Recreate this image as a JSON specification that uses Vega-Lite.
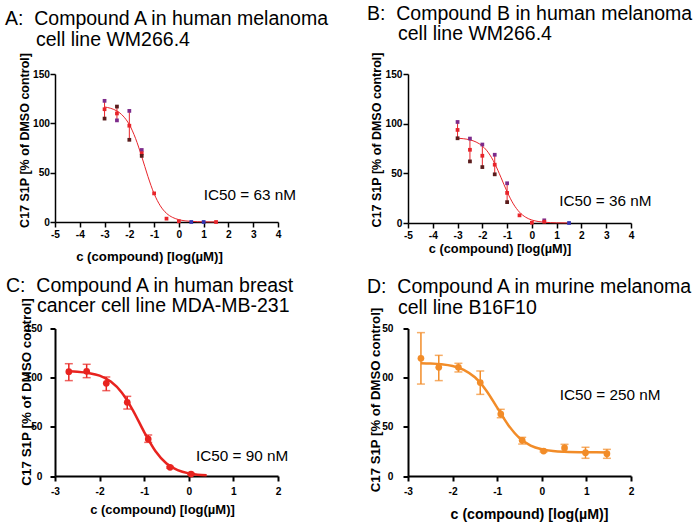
{
  "$schema": "https://vega.github.io/schema/vega-lite/v6.json",
  "background": "white",
  "padding": {"left": 5, "top": 3, "right": 5, "bottom": 5},
  "columns": 2,
  "bounds": "flush",
  "spacing": {"row": 105.5, "column": 130},
  "config": {
    "view": {"stroke": null},
    "axis": {
      "grid": false, "domainColor": "black", "tickColor": "black", "labelColor": "black", "titleColor": "black",
      "labelFont": "Liberation Sans", "titleFont": "Liberation Sans", "labelFontWeight": "bold", "titleFontWeight": "bold",
      "labelFontSize": 10.2, "tickSize": 5, "domainWidth": 1.5, "tickWidth": 1.5, "titleBaseline": "middle",
      "labelFlush": false, "labelOverlap": false, "tickCount": 20
    },
    "title": {"anchor": "start", "frame": "group", "baseline": "alphabetic", "fontSize": 19.5, "lineHeight": 20.5, "font": "Liberation Sans", "fontWeight": "normal", "color": "black"}
  },
  "concat": [
    {
      "width": 223, "height": 148,
      "title": {"text": ["A:\u00a0 Compound A in human melanoma", "\u200b\u00a0\u00a0\u00a0\u00a0\u00a0\u2009cell line WM266.4"], "dx": -50, "offset": 2},
      "layer": [
        {
          "data": {"values": [{"x": -3, "y": 116.6}, {"x": -2.75, "y": 115.2}, {"x": -2.5, "y": 112.5}, {"x": -2.25, "y": 107.4}, {"x": -2, "y": 98.7}, {"x": -1.75, "y": 84.8}, {"x": -1.5, "y": 66.3}, {"x": -1.25, "y": 46.2}, {"x": -1, "y": 28.7}, {"x": -0.75, "y": 16.4}, {"x": -0.5, "y": 8.8}, {"x": -0.25, "y": 4.6}, {"x": 0, "y": 2.35}, {"x": 0.25, "y": 1.19}, {"x": 0.5, "y": 0.6}, {"x": 1, "y": 0.15}, {"x": 1.5, "y": 0.04}]},
          "mark": {"type": "line", "color": "#e8242a", "strokeWidth": 1, "interpolate": "monotone"},
          "encoding": {
            "x": {"field": "x", "type": "quantitative", "scale": {"domain": [-5, 4], "nice": false, "zero": false},
                  "axis": {"title": "c (compound) [log(µM)]", "values": [-5, -4, -3, -2, -1, 0, 1, 2, 3, 4], "tickCount": 20, "labelOverlap": false, "labelExpr": "'' + datum.value", "labelPadding": 2, "titleFontSize": 13.2, "titleX": 94, "titleY": 34.5}},
            "y": {"field": "y", "type": "quantitative", "scale": {"domain": [0, 150], "nice": false},
                  "axis": {"title": "C17 S1P [% of DMSO control]", "values": [0, 50, 100, 150], "tickCount": 20, "labelOverlap": false, "labelPadding": 0.5, "titleFontSize": 12.5, "titleX": -31, "titleY": 66}}
          }
        },
        {
          "data": {"values": [{"x": -3, "lo": 104.8, "hi": 122.8}, {"x": -2.5, "lo": 103, "hi": 117}, {"x": -2, "lo": 83.3, "hi": 112.6}, {"x": -1.5, "lo": 67, "hi": 73}]},
          "mark": {"type": "rule", "color": "#e8242a", "strokeWidth": 1},
          "encoding": {"x": {"field": "x", "type": "quantitative"}, "y": {"field": "lo", "type": "quantitative"}, "y2": {"field": "hi"}}
        },
        {
          "data": {"values": [{"x": -3, "y": 122.8, "rep": "n1"}, {"x": -3, "y": 114.3, "rep": "mean"}, {"x": -3, "y": 104.8, "rep": "n2"}, {"x": -2.5, "y": 103, "rep": "n1"}, {"x": -2.5, "y": 110, "rep": "mean"}, {"x": -2.5, "y": 117, "rep": "n2"}, {"x": -2, "y": 112.6, "rep": "n1"}, {"x": -2, "y": 97.6, "rep": "mean"}, {"x": -2, "y": 83.3, "rep": "n2"}, {"x": -1.5, "y": 73, "rep": "n1"}, {"x": -1.5, "y": 69.7, "rep": "mean"}, {"x": -1.5, "y": 67, "rep": "n2"}, {"x": -1, "y": 29, "rep": "mean"}, {"x": -0.5, "y": 3.4, "rep": "mean"}, {"x": 0, "y": 0.7, "rep": "mean"}, {"x": 0.5, "y": 0, "rep": "n3"}, {"x": 1, "y": 0, "rep": "n3"}, {"x": 1.5, "y": 0, "rep": "mean"}]},
          "mark": {"type": "point", "shape": "square", "filled": true, "size": 14, "opacity": 1},
          "encoding": {"x": {"field": "x", "type": "quantitative"}, "y": {"field": "y", "type": "quantitative"},
                       "color": {"field": "rep", "type": "nominal", "scale": {"domain": ["n1", "mean", "n2", "n3"], "range": ["#7d2b8b", "#e8242a", "#5a1c1c", "#3434b0"]}, "legend": null}}
        },
        {
          "data": {"values": [{"x": 1, "y": 27, "label": "IC50 = 63 nM"}]},
          "mark": {"type": "text", "align": "left", "baseline": "middle", "fontSize": 15.3, "font": "Liberation Sans", "color": "black"},
          "encoding": {"x": {"field": "x", "type": "quantitative"}, "y": {"field": "y", "type": "quantitative"}, "text": {"field": "label"}}
        }
      ]
    },
    {
      "width": 223, "height": 149,
      "title": {"text": ["B:\u00a0 Compound B in human melanoma", "\u200b\u00a0\u00a0\u00a0\u00a0\u00a0\u2009cell line WM266.4"], "dx": -41, "offset": 7.3},
      "layer": [
        {
          "data": {"values": [{"x": -3, "y": 85.4}, {"x": -2.75, "y": 84.8}, {"x": -2.5, "y": 83.7}, {"x": -2.25, "y": 81.5}, {"x": -2, "y": 77.5}, {"x": -1.75, "y": 70.6}, {"x": -1.5, "y": 59.9}, {"x": -1.25, "y": 46.0}, {"x": -1, "y": 31.4}, {"x": -0.75, "y": 19.3}, {"x": -0.5, "y": 10.9}, {"x": -0.25, "y": 5.8}, {"x": 0, "y": 3.0}, {"x": 0.25, "y": 1.54}, {"x": 0.5, "y": 0.78}, {"x": 1, "y": 0.2}, {"x": 1.5, "y": 0.05}]},
          "mark": {"type": "line", "color": "#e8242a", "strokeWidth": 1, "interpolate": "monotone"},
          "encoding": {
            "x": {"field": "x", "type": "quantitative", "scale": {"domain": [-5, 4], "nice": false, "zero": false},
                  "axis": {"title": "c (compound) [log(µM)]", "values": [-5, -4, -3, -2, -1, 0, 1, 2, 3, 4], "tickCount": 20, "labelOverlap": false, "labelExpr": "'' + datum.value", "labelPadding": 2, "titleFontSize": 12.8, "titleX": 91.5, "titleY": 25.5}},
            "y": {"field": "y", "type": "quantitative", "scale": {"domain": [0, 150], "nice": false},
                  "axis": {"title": "C17 S1P [% of DMSO control]", "values": [0, 50, 100, 150], "tickCount": 20, "labelOverlap": false, "labelPadding": 1, "titleFontSize": 12.5, "titleX": -31.5, "titleY": 65.5}}
          }
        },
        {
          "data": {"values": [{"x": -3, "lo": 85.3, "hi": 101.7}, {"x": -2.5, "lo": 62, "hi": 85}, {"x": -2, "lo": 56.3, "hi": 79}, {"x": -1.5, "lo": 49, "hi": 68.7}, {"x": -1, "lo": 21, "hi": 40}]},
          "mark": {"type": "rule", "color": "#e8242a", "strokeWidth": 1},
          "encoding": {"x": {"field": "x", "type": "quantitative"}, "y": {"field": "lo", "type": "quantitative"}, "y2": {"field": "hi"}}
        },
        {
          "data": {"values": [{"x": -3, "y": 101.7, "rep": "n1"}, {"x": -3, "y": 93.7, "rep": "mean"}, {"x": -3, "y": 85.3, "rep": "n2"}, {"x": -2.5, "y": 85, "rep": "n1"}, {"x": -2.5, "y": 73.7, "rep": "mean"}, {"x": -2.5, "y": 62, "rep": "n2"}, {"x": -2, "y": 79, "rep": "n1"}, {"x": -2, "y": 67.7, "rep": "mean"}, {"x": -2, "y": 56.3, "rep": "n2"}, {"x": -1.5, "y": 68.7, "rep": "n1"}, {"x": -1.5, "y": 58.7, "rep": "mean"}, {"x": -1.5, "y": 49, "rep": "n2"}, {"x": -1, "y": 40, "rep": "n1"}, {"x": -1, "y": 30.3, "rep": "mean"}, {"x": -1, "y": 21, "rep": "n2"}, {"x": -0.5, "y": 7.7, "rep": "mean"}, {"x": 0, "y": 0.3, "rep": "mean"}, {"x": 0.5, "y": 2.7, "rep": "n1"}, {"x": 0.5, "y": 1.3, "rep": "mean"}, {"x": 1.5, "y": 0, "rep": "n3"}]},
          "mark": {"type": "point", "shape": "square", "filled": true, "size": 14, "opacity": 1},
          "encoding": {"x": {"field": "x", "type": "quantitative"}, "y": {"field": "y", "type": "quantitative"},
                       "color": {"field": "rep", "type": "nominal", "scale": {"domain": ["n1", "mean", "n2", "n3"], "range": ["#7d2b8b", "#e8242a", "#5a1c1c", "#3434b0"]}, "legend": null}}
        },
        {
          "data": {"values": [{"x": 1.1, "y": 22, "label": "IC50 = 36 nM"}]},
          "mark": {"type": "text", "align": "left", "baseline": "middle", "fontSize": 15.3, "font": "Liberation Sans", "color": "black"},
          "encoding": {"x": {"field": "x", "type": "quantitative"}, "y": {"field": "y", "type": "quantitative"}, "text": {"field": "label"}}
        }
      ]
    },
    {
      "width": 223, "height": 147.5,
      "title": {"text": ["C:\u00a0 Compound A in human breast", "\u200b\u00a0\u00a0\u00a0\u00a0\u00a0\u2009cancer cell line MDA-MB-231"], "dx": -49, "offset": -19},
      "layer": [
        {
          "data": {"values": [{"x": -2.69, "y": 106.5}, {"x": -2.5, "y": 106.0}, {"x": -2.25, "y": 104.7}, {"x": -2, "y": 102.0}, {"x": -1.75, "y": 96.0}, {"x": -1.5, "y": 84.7}, {"x": -1.25, "y": 66.6}, {"x": -1, "y": 44.7}, {"x": -0.75, "y": 25.4}, {"x": -0.5, "y": 12.7}, {"x": -0.25, "y": 5.9}, {"x": 0, "y": 2.65}, {"x": 0.2, "y": 1.38}, {"x": 0.4, "y": 0.71}]},
          "mark": {"type": "line", "color": "#e8231f", "strokeWidth": 2.5, "interpolate": "monotone"},
          "encoding": {
            "x": {"field": "x", "type": "quantitative", "scale": {"domain": [-3, 2], "nice": false, "zero": false},
                  "axis": {"title": "c (compound) [log(µM)]", "values": [-3, -2, -1, 0, 1, 2], "tickCount": 20, "labelOverlap": false, "labelExpr": "'' + datum.value", "labelPadding": 5.5, "domainWidth": 2, "tickWidth": 2, "titleFontSize": 13, "titleX": 107, "titleY": 33.5}},
            "y": {"field": "y", "type": "quantitative", "scale": {"domain": [0, 150], "nice": false},
                  "axis": {"title": "C17 S1P [% of DMSO control]", "values": [0, 50, 100, 150], "tickCount": 20, "labelOverlap": false, "labelPadding": 8, "domainWidth": 2, "tickWidth": 2, "titleFontSize": 13.4, "titleX": -28.5, "titleY": 63}}
          }
        },
        {
          "data": {"values": [{"x": -2.69, "lo": 97, "hi": 114.2}, {"x": -2.29, "lo": 100, "hi": 113.6}, {"x": -1.85, "lo": 86.8, "hi": 100.7}, {"x": -1.38, "lo": 68.1, "hi": 81}, {"x": -0.91, "lo": 34.2, "hi": 41.7}, {"x": -0.42, "lo": 8, "hi": 9.8}, {"x": 0.05, "lo": 1.2, "hi": 2.8}]},
          "layer": [
            {"mark": {"type": "rule", "color": "#e8231f", "strokeWidth": 1.5}, "encoding": {"x": {"field": "x", "type": "quantitative"}, "y": {"field": "lo", "type": "quantitative"}, "y2": {"field": "hi"}}},
            {"mark": {"type": "tick", "orient": "horizontal", "color": "#e8231f", "size": 8, "thickness": 1.5}, "encoding": {"x": {"field": "x", "type": "quantitative"}, "y": {"field": "lo", "type": "quantitative"}}},
            {"mark": {"type": "tick", "orient": "horizontal", "color": "#e8231f", "size": 8, "thickness": 1.5}, "encoding": {"x": {"field": "x", "type": "quantitative"}, "y": {"field": "hi", "type": "quantitative"}}}
          ]
        },
        {
          "data": {"values": [{"x": -2.69, "y": 106.1}, {"x": -2.29, "y": 106.4}, {"x": -1.85, "y": 94.2}, {"x": -1.38, "y": 74.9}, {"x": -0.91, "y": 37.6}, {"x": -0.42, "y": 8.8}, {"x": 0.05, "y": 2}]},
          "mark": {"type": "circle", "color": "#e8231f", "size": 45, "opacity": 1},
          "encoding": {"x": {"field": "x", "type": "quantitative"}, "y": {"field": "y", "type": "quantitative"}}
        },
        {
          "data": {"values": [{"x": 0.16, "y": 20.6, "label": "IC50 = 90 nM"}]},
          "mark": {"type": "text", "align": "left", "baseline": "middle", "fontSize": 15.3, "font": "Liberation Sans", "color": "black"},
          "encoding": {"x": {"field": "x", "type": "quantitative"}, "y": {"field": "y", "type": "quantitative"}, "text": {"field": "label"}}
        }
      ]
    },
    {
      "width": 223, "height": 147.5,
      "title": {"text": ["D:\u00a0 Compound A in murine melanoma", "\u200b\u00a0\u00a0\u00a0\u00a0\u00a0\u2009cell line B16F10"], "dx": -41, "offset": -11},
      "layer": [
        {
          "data": {"values": [{"x": -2.71, "y": 114.7}, {"x": -2.5, "y": 114.4}, {"x": -2.25, "y": 113.6}, {"x": -2, "y": 111.8}, {"x": -1.75, "y": 108.0}, {"x": -1.5, "y": 100.4}, {"x": -1.25, "y": 87.3}, {"x": -1, "y": 69.5}, {"x": -0.75, "y": 51.7}, {"x": -0.5, "y": 38.6}, {"x": -0.25, "y": 31.0}, {"x": 0, "y": 27.2}, {"x": 0.25, "y": 25.4}, {"x": 0.5, "y": 24.6}, {"x": 1, "y": 24.1}, {"x": 1.5, "y": 24.0}]},
          "mark": {"type": "line", "color": "#f28c28", "strokeWidth": 2.5, "interpolate": "monotone"},
          "encoding": {
            "x": {"field": "x", "type": "quantitative", "scale": {"domain": [-3, 2], "nice": false, "zero": false},
                  "axis": {"title": "c (compound) [log(µM)]", "values": [-3, -2, -1, 0, 1, 2], "tickCount": 20, "labelOverlap": false, "labelExpr": "'' + datum.value", "labelPadding": 5.5, "domainWidth": 2, "tickWidth": 2, "titleFontSize": 14.2, "titleX": 121, "titleY": 38.5}},
            "y": {"field": "y", "type": "quantitative", "scale": {"domain": [0, 150], "nice": false},
                  "axis": {"title": "C17 S1P [% of DMSO control]", "values": [0, 50, 100, 150], "tickCount": 20, "labelOverlap": false, "labelExpr": "datum.value >= 100 ? substring(datum.label, 1) : datum.label", "labelPadding": 10, "domainWidth": 2, "tickWidth": 2, "titleFontSize": 13.2, "titleX": -33, "titleY": 71}}
          }
        },
        {
          "data": {"values": [{"x": -2.71, "lo": 93.5, "hi": 145.8}, {"x": -2.31, "lo": 97, "hi": 122.7}, {"x": -1.87, "lo": 105.8, "hi": 114.6}, {"x": -1.38, "lo": 83, "hi": 106.8}, {"x": -0.92, "lo": 59.3, "hi": 67.8}, {"x": -0.44, "lo": 32.5, "hi": 39.3}, {"x": 0.04, "lo": 24.5, "hi": 26.3}, {"x": 0.51, "lo": 24.7, "hi": 32.2}, {"x": 0.98, "lo": 18, "hi": 29.2}, {"x": 1.46, "lo": 18, "hi": 27.1}]},
          "layer": [
            {"mark": {"type": "rule", "color": "#f28c28", "strokeWidth": 1.5}, "encoding": {"x": {"field": "x", "type": "quantitative"}, "y": {"field": "lo", "type": "quantitative"}, "y2": {"field": "hi"}}},
            {"mark": {"type": "tick", "orient": "horizontal", "color": "#f28c28", "size": 8, "thickness": 1.5}, "encoding": {"x": {"field": "x", "type": "quantitative"}, "y": {"field": "lo", "type": "quantitative"}}},
            {"mark": {"type": "tick", "orient": "horizontal", "color": "#f28c28", "size": 8, "thickness": 1.5}, "encoding": {"x": {"field": "x", "type": "quantitative"}, "y": {"field": "hi", "type": "quantitative"}}}
          ]
        },
        {
          "data": {"values": [{"x": -2.71, "y": 119.7}, {"x": -2.31, "y": 110.5}, {"x": -1.87, "y": 110.5}, {"x": -1.38, "y": 95}, {"x": -0.92, "y": 63}, {"x": -0.44, "y": 36.3}, {"x": 0.04, "y": 25.4}, {"x": 0.51, "y": 28.5}, {"x": 0.98, "y": 23.7}, {"x": 1.46, "y": 22.7}]},
          "mark": {"type": "circle", "color": "#f28c28", "size": 45, "opacity": 1},
          "encoding": {"x": {"field": "x", "type": "quantitative"}, "y": {"field": "y", "type": "quantitative"}}
        },
        {
          "data": {"values": [{"x": 0.4, "y": 82.4, "label": "IC50 = 250 nM"}]},
          "mark": {"type": "text", "align": "left", "baseline": "middle", "fontSize": 15.3, "font": "Liberation Sans", "color": "black"},
          "encoding": {"x": {"field": "x", "type": "quantitative"}, "y": {"field": "y", "type": "quantitative"}, "text": {"field": "label"}}
        }
      ]
    }
  ]
}
